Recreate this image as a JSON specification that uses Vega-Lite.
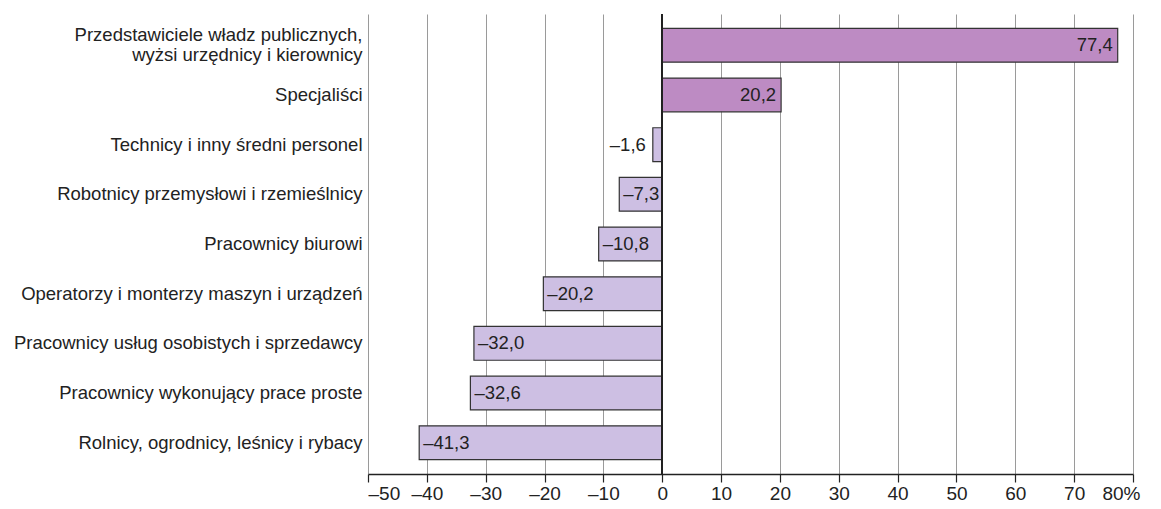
{
  "$schema": "https://vega.github.io/schema/vega-lite/v6.json",
  "width": 765,
  "height": 460,
  "autosize": {"type": "none"},
  "padding": {"left": 368, "top": 14, "right": 28, "bottom": 35},
  "background": "white",
  "config": {
    "locale": {"number": {"decimal": ",", "thousands": " ", "grouping": [3], "currency": ["", ""], "minus": "–"}},
    "view": {"stroke": null},
    "font": "Liberation Sans",
    "text": {"font": "Liberation Sans"}
  },
  "data": {
    "values": [
      {"category": "Przedstawiciele władz publicznych, wyżsi urzędnicy i kierownicy", "value": 77.4},
      {"category": "Specjaliści", "value": 20.2},
      {"category": "Technicy i inny średni personel", "value": -1.6},
      {"category": "Robotnicy przemysłowi i rzemieślnicy", "value": -7.3},
      {"category": "Pracownicy biurowi", "value": -10.8},
      {"category": "Operatorzy i monterzy maszyn i urządzeń", "value": -20.2},
      {"category": "Pracownicy usług osobistych i sprzedawcy", "value": -32.0},
      {"category": "Pracownicy wykonujący prace proste", "value": -32.6},
      {"category": "Rolnicy, ogrodnicy, leśnicy i rybacy", "value": -41.3}
    ]
  },
  "encoding": {
    "y": {
      "field": "category", "type": "nominal", "sort": null,
      "scale": {"paddingInner": 0.32, "paddingOuter": 0.29},
      "axis": {
        "title": null, "domain": false, "ticks": false, "labelPadding": 6,
        "labelFont": "Liberation Sans", "labelFontSize": 18.5, "labelColor": "#222",
        "labelLineHeight": 20, "labelLimit": 400,
        "labelOffset": {"condition": {"test": "test(/^Przedstawiciele/, datum.label)", "value": -10}, "value": 0},
        "labelExpr": "test(/^Przedstawiciele/, datum.label) ? ['Przedstawiciele władz publicznych,', 'wyżsi urzędnicy i kierownicy'] : datum.label"
      }
    }
  },
  "layer": [
    {
      "mark": {"type": "bar", "stroke": "#333", "strokeWidth": 1.2},
      "encoding": {
        "x": {
          "field": "value", "type": "quantitative",
          "scale": {"domain": [-50, 80], "nice": false, "zero": false},
          "axis": {
            "title": null, "values": [-50,-40,-30,-20,-10,0,10,20,30,40,50,60,70,80],
            "format": "d", "domainColor": "#222", "domainWidth": 1.5, "tickColor": "#222", "tickSize": 8, "tickWidth": 1.2,
            "grid": true, "gridColor": "#9a9a9a", "gridWidth": 1,
            "labelFont": "Liberation Sans", "labelFontSize": 19, "labelColor": "#222", "labelPadding": 2,
            "labelOffset": {"condition": {"test": "datum.value == 80", "value": 7}, "value": 0},
            "labelExpr": "datum.value == 80 ? '80%' : datum.label"
          }
        },
        "color": {"condition": {"test": "datum.value > 0", "value": "#bd8bc3"}, "value": "#cdbfe3"}
      }
    },
    {
      "mark": {"type": "rule", "color": "#222", "strokeWidth": 1.5},
      "encoding": {"x": {"datum": 0, "type": "quantitative"}, "y": {"value": 0}, "y2": {"value": 460}}
    },
    {
      "transform": [{"filter": "datum.value > 0"}],
      "mark": {"type": "text", "align": "right", "dx": -5, "fontSize": 18.5, "color": "#222", "font": "Liberation Sans"},
      "encoding": {"x": {"field": "value", "type": "quantitative"}, "text": {"field": "value", "type": "quantitative", "format": ".1f"}}
    },
    {
      "transform": [{"filter": "datum.value < -5"}],
      "mark": {"type": "text", "align": "left", "dx": 4, "fontSize": 18.5, "color": "#222", "font": "Liberation Sans"},
      "encoding": {"x": {"field": "value", "type": "quantitative"}, "text": {"field": "value", "type": "quantitative", "format": ".1f"}}
    },
    {
      "transform": [{"filter": "datum.value < 0 && datum.value >= -5"}],
      "mark": {"type": "text", "align": "right", "dx": -7, "fontSize": 18.5, "color": "#222", "font": "Liberation Sans"},
      "encoding": {"x": {"field": "value", "type": "quantitative"}, "text": {"field": "value", "type": "quantitative", "format": ".1f"}}
    }
  ]
}
